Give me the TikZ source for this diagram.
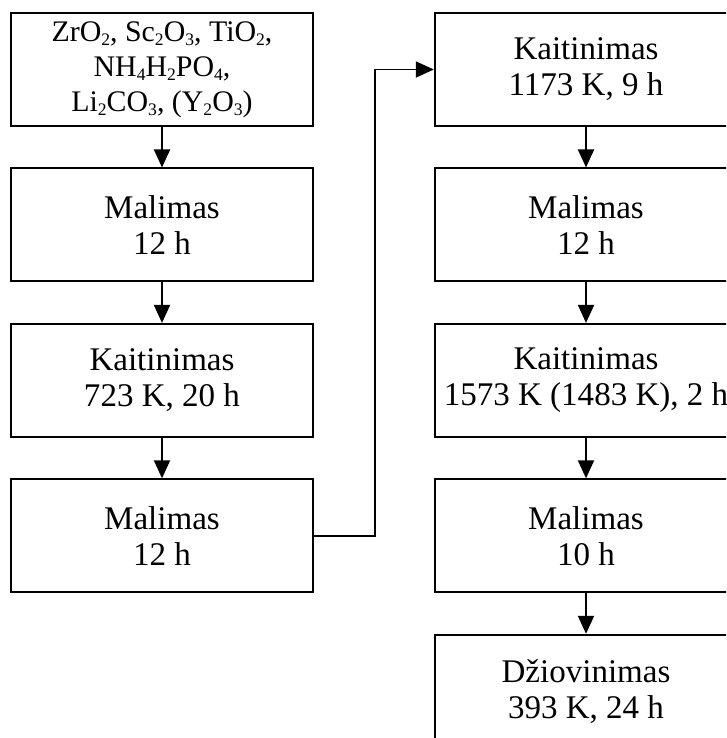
\documentclass[tikz,border=0pt]{standalone}
\usepackage{fontspec}
\setmainfont{Liberation Serif}
\usetikzlibrary{positioning,arrows.meta}

% small lowered index for the formulas
\newcommand{\ix}[1]{\raisebox{-2.2pt}{\fontsize{10}{10}\selectfont #1}}

\tikzset{
    stage/.style={draw, line width=1.1pt, minimum width=6.05cm, minimum height=2.26cm,
        align=center, font=\fontsize{18.8}{20.5}\selectfont, inner sep=0pt},
    flow/.style={line width=1.1pt, -{Triangle[length=0.36cm, width=0.32cm]}}
}

\begin{document}
\begin{tikzpicture}[node distance=0.81cm]

    % Frame of the page
    \useasboundingbox (0,0) rectangle (14.52,-14.76);
    \clip (0,0) rectangle (14.52,-14.76);

    % Left column
    \node[stage, font=\fontsize{17}{19.9}\selectfont] (raw) at (3.24,-1.39)
        {ZrO\ix{2}, Sc\ix{2}O\ix{3}, TiO\ix{2},\\
         NH\ix{4}H\ix{2}PO\ix{4},\\
         Li\ix{2}CO\ix{3}, (Y\ix{2}O\ix{3})};
    \node[stage, below=of raw] (mill1) {Malimas\\12 h};
    \node[stage, below=of mill1] (heat1) {Kaitinimas\\723 K, 20 h};
    \node[stage, below=of heat1] (mill2) {Malimas\\12 h};

    % Right column
    \node[stage] (heat2) at (11.72,-1.39) {Kaitinimas\\1173 K, 9 h};
    \node[stage, below=of heat2] (mill3) {Malimas\\12 h};
    \node[stage, below=of mill3] (heat3) {Kaitinimas\\1573 K (1483 K), 2 h};
    \node[stage, below=of heat3] (mill4) {Malimas\\10 h};
    \node[stage, below=of mill4] (dry) {Džiovinimas\\393 K, 24 h};

    % Arrows
    \draw[flow] (raw) -- (mill1);
    \draw[flow] (mill1) -- (heat1);
    \draw[flow] (heat1) -- (mill2);
    \coordinate (turn) at (7.5,0);
    \draw[flow] (mill2.east) -- (mill2.east -| turn) |- (heat2.west);
    \draw[flow] (heat2) -- (mill3);
    \draw[flow] (mill3) -- (heat3);
    \draw[flow] (heat3) -- (mill4);
    \draw[flow] (mill4) -- (dry);

\end{tikzpicture}
\end{document}
